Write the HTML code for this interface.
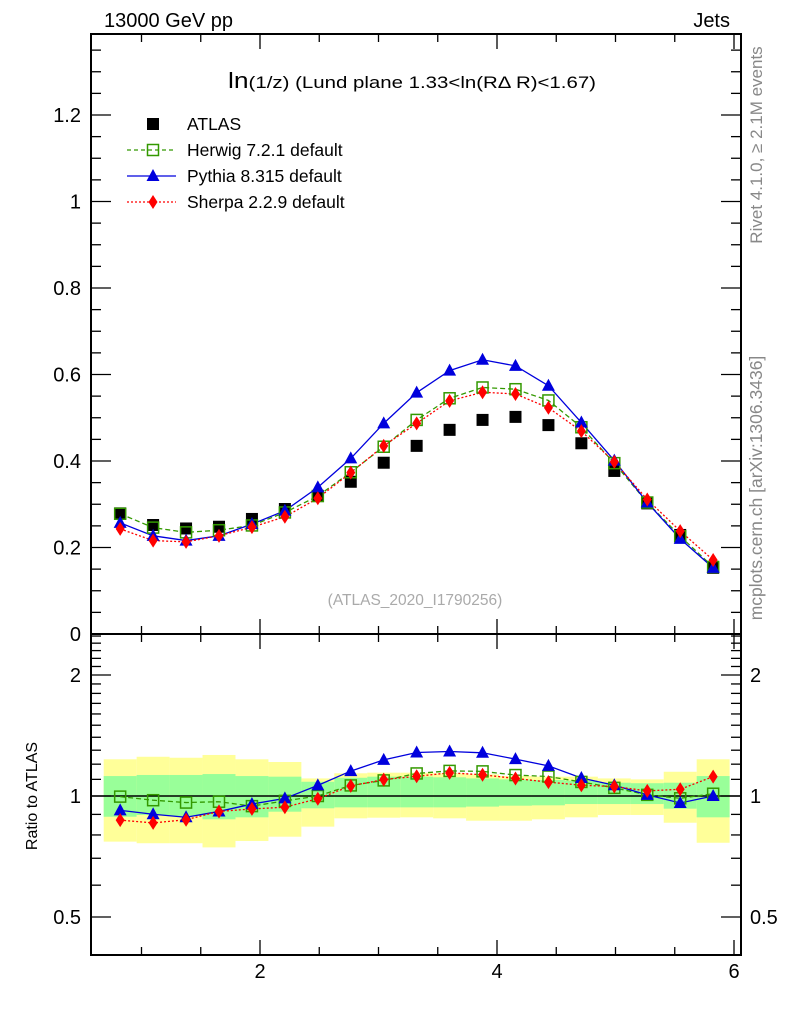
<!DOCTYPE html>
<html><head><meta charset="utf-8">
<style>
html,body{margin:0;padding:0;background:#fff;}
svg{display:block;font-family:"Liberation Sans",sans-serif;}
</style></head>
<body>
<svg id="chart" width="786" height="1024" viewBox="0 0 786 1024" xmlns="http://www.w3.org/2000/svg">
<text x="104" y="27" font-size="20">13000 GeV pp</text>
<text x="730" y="27" font-size="20" text-anchor="end">Jets</text>
<text x="412" y="88" font-size="17" text-anchor="middle" textLength="368" lengthAdjust="spacingAndGlyphs"><tspan font-size="22">ln</tspan>(1/z) (Lund plane 1.33&lt;ln(RΔ R)&lt;1.67)</text>
<text transform="translate(762,145) rotate(-90)" font-size="17" fill="#888" text-anchor="middle">Rivet 4.1.0, ≥ 2.1M events</text>
<text transform="translate(762,488) rotate(-90)" font-size="17.5" fill="#888" text-anchor="middle">mcplots.cern.ch [arXiv:1306.3436]</text>
<text x="415" y="605" font-size="15.5" fill="#aaa" text-anchor="middle">(ATLAS_2020_I1790256)</text>
<text transform="translate(37,796) rotate(-90)" font-size="16" text-anchor="middle">Ratio to ATLAS</text>
<g id="bands"></g>
<g id="lines"></g>
<g id="axes"></g>
<g id="legend"></g>
</svg>
<script>
const xCenters = [0.82,1.098,1.376,1.654,1.932,2.21,2.488,2.766,3.044,3.322,3.6,3.878,4.156,4.434,4.712,4.99,5.268,5.546,5.824];
const atlasVals = [0.279,0.252,0.244,0.248,0.266,0.289,0.319,0.352,0.396,0.435,0.472,0.495,0.502,0.483,0.441,0.377,0.302,0.229,0.153];
const herwigVals = [0.278,0.246,0.235,0.240,0.251,0.281,0.319,0.374,0.433,0.495,0.545,0.570,0.566,0.540,0.478,0.395,0.304,0.226,0.155];
const pythiaVals = [0.257,0.227,0.216,0.227,0.254,0.285,0.339,0.406,0.487,0.558,0.609,0.634,0.620,0.574,0.489,0.401,0.304,0.220,0.153];
const sherpaVals = [0.243,0.216,0.213,0.227,0.247,0.271,0.314,0.373,0.435,0.487,0.539,0.559,0.555,0.523,0.469,0.398,0.311,0.238,0.171];
const yellowHi = [1.234,1.252,1.245,1.265,1.234,1.215,1.106,1.139,1.143,1.143,1.139,1.132,1.121,1.117,1.117,1.106,1.100,1.149,1.234];
const yellowLo = [0.770,0.763,0.763,0.745,0.773,0.792,0.839,0.880,0.883,0.885,0.880,0.868,0.868,0.875,0.885,0.897,0.897,0.858,0.765];
const greenHi = [1.121,1.128,1.128,1.134,1.121,1.117,1.085,1.110,1.117,1.117,1.113,1.106,1.100,1.096,1.092,1.079,1.076,1.079,1.121];
const greenLo = [0.888,0.897,0.892,0.875,0.885,0.914,0.932,0.937,0.937,0.937,0.937,0.941,0.946,0.948,0.955,0.955,0.955,0.930,0.885];
const mainTicks = [0,0.2,0.4,0.6,0.8,1,1.2];
const ratioTicks = [0.5,1,2];
const xTicks = [2,4,6];

const NS="http://www.w3.org/2000/svg";
const L=91,R=741,T=34,MB=634,RB=955;
const xs=v=>260+(v-2)*118.5;
const ym=v=>634-v*432.5;
const yr=r=>796-Math.log10(r)/Math.log10(2)*121;
const half=(xs(xCenters[1])-xs(xCenters[0]))/2;
function mk(parent,tag,attrs){const e=document.createElementNS(NS,tag);for(const k in attrs)e.setAttribute(k,attrs[k]);document.getElementById(parent).appendChild(e);return e;}

xCenters.forEach((c,i)=>{
  const x0=xs(c)-half,w=half*2;
  let e=mk('bands','rect',{x:x0,y:yr(yellowHi[i]),width:w,height:yr(yellowLo[i])-yr(yellowHi[i]),fill:'#ffff99'});
  
  
});
xCenters.forEach((c,i)=>{
  const x0=xs(c)-half,w=half*2;
  let e=mk('bands','rect',{x:x0,y:yr(greenHi[i]),width:w,height:yr(greenLo[i])-yr(greenHi[i]),fill:'#99ff99'});
  
  
});
let one=mk('bands','line',{x1:L,x2:R,y1:yr(1),y2:yr(1),stroke:'#000','stroke-width':1.5});



function marker(g,type,x,y,color,name){
  let e;
  if(type==='sq') e=mk(g,'rect',{x:x-6,y:y-6,width:12,height:12,fill:'#000'});
  else if(type==='osq') e=mk(g,'rect',{x:x-5.5,y:y-5.5,width:11,height:11,fill:'none',stroke:color,'stroke-width':1.5});
  else if(type==='tri') e=mk(g,'polygon',{points:`${x},${y-7} ${x-6.5},${y+5} ${x+6.5},${y+5}`,fill:color});
  else e=mk(g,'polygon',{points:`${x},${y-7} ${x+4.5},${y} ${x},${y+7} ${x-4.5},${y}`,fill:color});
  
  
}
const series=[
  {v:herwigVals,c:'#339900',t:'osq',d:'5,3',n:'herwig'},
  {v:pythiaVals,c:'#0000dd',t:'tri',d:'',n:'pythia'},
  {v:sherpaVals,c:'#ff0000',t:'dia',d:'2,2',n:'sherpa'}];
series.forEach(s=>{
  const pm=xCenters.map((c,i)=>xs(c)+','+ym(s.v[i])).join(' ');
  let l=mk('lines','polyline',{points:pm,fill:'none',stroke:s.c,'stroke-width':1.3,'stroke-dasharray':s.d});
  
  
  const pr=xCenters.map((c,i)=>xs(c)+','+yr(s.v[i]/atlasVals[i])).join(' ');
  let l2=mk('lines','polyline',{points:pr,fill:'none',stroke:s.c,'stroke-width':1.3,'stroke-dasharray':s.d});
  
  
});
xCenters.forEach((c,i)=>marker('lines','sq',xs(c),ym(atlasVals[i]),'#000','atlas-point'));
series.forEach(s=>{
  xCenters.forEach((c,i)=>{
    marker('lines',s.t,xs(c),ym(s.v[i]),s.c,s.n+'-point');
    marker('lines',s.t,xs(c),yr(s.v[i]/atlasVals[i]),s.c,s.n+'-ratio-point');
  });
});

let f1=mk('axes','rect',{x:L,y:T,width:R-L,height:MB-T,fill:'none',stroke:'#000','stroke-width':2});


let f2=mk('axes','rect',{x:L,y:MB,width:R-L,height:RB-MB,fill:'none',stroke:'#000','stroke-width':2});


function tick(x1,y1,x2,y2){let e=mk('axes','line',{x1,y1,x2,y2,stroke:'#000','stroke-width':1.3});}
for(let v=1;v<=6.01;v+=0.5){
  const x=xs(v); if(x<L||x>R) continue;
  const major=Math.abs(v-Math.round(v/2)*2)<0.01;
  const len=major?15:8;
  [T,MB,RB].forEach(y=>{ if(y!==T) tick(x,y,x,y-len); if(y!==RB) tick(x,y,x,y+len);});
}
xTicks.forEach(v=>{let t=mk('axes','text',{x:xs(v),y:978,'font-size':20,'text-anchor':'middle'});t.textContent=v;});
for(let k=0;k<=27;k++){
  const v=k*0.05,y=ym(v); if(y<T) continue;
  const major=k%4===0, len=major?20:10;
  tick(L,y,L+len,y); tick(R,y,R-len,y);
}
mainTicks.forEach(v=>{let t=mk('axes','text',{x:81,y:ym(v)+7,'font-size':20,'text-anchor':'end'});t.textContent=v;});
const rmin=[0.4,0.5,0.6,0.7,0.8,0.9,1,1.1,1.2,1.3,1.4,1.5,1.6,1.7,1.8,1.9,2,2.1,2.2,2.3,2.4,2.5];
rmin.forEach(r=>{const y=yr(r); if(y<MB||y>RB) return; const major=[0.5,1,2].includes(r); const len=major?20:10; tick(L,y,L+len,y); tick(R,y,R-len,y);});
ratioTicks.forEach(v=>{
  let t=mk('axes','text',{x:81,y:yr(v)+7,'font-size':20,'text-anchor':'end'});t.textContent=v;
  let t2=mk('axes','text',{x:750,y:yr(v)+7,'font-size':20,'text-anchor':'start'});t2.textContent=v;
});

const leg=[{t:'sq',c:'#000',n:'ATLAS',d:null,y:124},{t:'osq',c:'#339900',n:'Herwig 7.2.1 default',d:'4,3',y:150},{t:'tri',c:'#0000dd',n:'Pythia 8.315 default',d:'',y:176},{t:'dia',c:'#ff0000',n:'Sherpa 2.2.9 default',d:'2,2',y:202}];
leg.forEach(e=>{
  if(e.d!==null){let l=mk('legend','line',{x1:127,x2:176,y1:e.y,y2:e.y,stroke:e.c,'stroke-width':1.3,'stroke-dasharray':e.d});}
  marker('legend',e.t,153,e.y,e.c,'legend-marker');
  let t=mk('legend','text',{x:187,y:e.y+6,'font-size':17.5});t.textContent=e.n;
  
  
});
</script>
</body></html>
